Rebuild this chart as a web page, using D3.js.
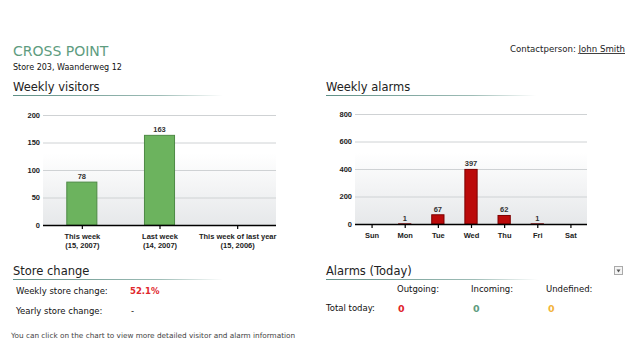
<!DOCTYPE html>
<html><head><meta charset="utf-8">
<script src="https://cdn.jsdelivr.net/npm/d3@7"></script>
<style>
body{margin:0;background:#fff;}
svg text{font-family:"DejaVu Sans",Verdana,sans-serif;}
.ax text{font-family:"Liberation Sans",Arial,sans-serif;font-weight:bold;font-size:7.5px;fill:#222;}
</style></head><body>
<svg id="c" width="640" height="359"></svg>
<script>
const visitorCats = [["This week","(15, 2007)"],["Last week","(14, 2007)"],["This week of last year","(15, 2006)"]];
const visitorVals = [78, 163, null];
const visitorTicks = [0, 50, 100, 150, 200];
const alarmDays = ["Sun","Mon","Tue","Wed","Thu","Fri","Sat"];
const alarmVals = [0, 1, 67, 397, 62, 1, 0];
const alarmTicks = [0, 200, 400, 600, 800];

const svg = d3.select("#c");
const defs = svg.append("defs");
const bg = defs.append("linearGradient").attr("id","bg").attr("x1",0).attr("y1",0).attr("x2",0).attr("y2",1);
bg.append("stop").attr("offset","0.35").attr("stop-color","#ffffff");
bg.append("stop").attr("offset","1").attr("stop-color","#e6e8ea");
const ul = defs.append("linearGradient").attr("id","ul");
ul.append("stop").attr("offset","0").attr("stop-color","#5f8f86");
ul.append("stop").attr("offset","0.7").attr("stop-color","#9fbdb7");
ul.append("stop").attr("offset","1").attr("stop-color","#ffffff");

// Header
svg.append("text").attr("x",13).attr("y",56).attr("font-size",14).attr("fill","#5e9c80").text("CROSS POINT");
svg.append("text").attr("x",13).attr("y",70).attr("font-size",8).attr("fill","#111").text("Store 203, Waanderweg 12");
const cp = svg.append("text").attr("x",625).attr("y",52).attr("font-size",8.6).attr("fill","#222").attr("text-anchor","end");
cp.append("tspan").text("Contactperson: ");
cp.append("tspan").attr("text-decoration","underline").text("John Smith");

function section(x,y,label,w){
  svg.append("text").attr("x",x).attr("y",y).attr("font-size",11.5).attr("fill","#222").text(label);
  svg.append("rect").attr("x",x).attr("y",y+4).attr("width",w).attr("height",1).attr("fill","url(#ul)");
}
section(13,91,"Weekly visitors",210);
section(326,91,"Weekly alarms",210);
section(13,275,"Store change",210);
section(326,275,"Alarms (Today)",212);

function chart(x0,x1,y0,y1,cats,vals,ticks,fill,stroke){
  const xc = d3.scalePoint().domain(d3.range(cats.length)).range([x0,x1]).padding(0.5);
  const y = d3.scaleLinear().domain([ticks[0],ticks[ticks.length-1]]).range([y0,y1]);
  const g = svg.append("g");
  g.append("rect").attr("x",x0).attr("y",y1).attr("width",x1-x0).attr("height",y0-y1).attr("fill","url(#bg)");
  g.selectAll(".gl").data(ticks.slice(1)).join("line")
    .attr("x1",x0).attr("x2",x1).attr("y1",d=>y(d)+0.5).attr("y2",d=>y(d)+0.5)
    .attr("stroke","#cfd2d4").attr("stroke-width",1);
  const ya = g.append("g").attr("class","ax").attr("transform",`translate(${x0},0)`)
    .call(d3.axisLeft(y).tickValues(ticks).tickSize(0).tickPadding(3));
  ya.select(".domain").remove();
  const bw = (x1-x0)/cats.length*0.4;
  const shown = vals.map((v,i)=>({v,i})).filter(d=>d.v!=null&&d.v>0);
  g.selectAll(".bar").data(shown).join("rect")
    .attr("x",d=>xc(d.i)-bw/2+0.5).attr("width",bw-1)
    .attr("y",d=>y(d.v)).attr("height",d=>y0-y(d.v))
    .attr("fill",fill).attr("stroke",stroke).attr("stroke-width",1);
  g.selectAll(".vl").data(shown).join("text")
    .attr("x",d=>xc(d.i)).attr("y",d=>y(d.v)-3).attr("text-anchor","middle")
    .style("font-family","'Liberation Sans',Arial,sans-serif").style("font-weight","bold")
    .attr("font-size",7.5).attr("fill","#333").text(d=>d.v);
  const xa = g.append("g").attr("class","ax").attr("transform",`translate(0,${y0})`)
    .call(d3.axisBottom(xc).tickSize(4).tickPadding(3).tickFormat(""));
  xa.select(".domain").attr("d",`M${x0},0.5H${x1}`).attr("stroke","#000").attr("stroke-width",1.6);
  xa.selectAll(".tick line").attr("stroke","#000").attr("stroke-width",1.2);
  xa.selectAll(".tick").append("text").attr("fill","#222").attr("text-anchor","middle")
    .each(function(d){
      const lines = Array.isArray(cats[d])?cats[d]:[cats[d]];
      const t=d3.select(this);
      lines.forEach((l,k)=>t.append("tspan").attr("x",0).attr("y",14+k*9).text(l));
    });
}
chart(43,276,225,115,visitorCats,visitorVals,visitorTicks,"#6cb35e","#4d8a45");
chart(355,587,224,114,alarmDays,alarmVals,alarmTicks,"#bb0a0a","#7d0000");

// Store change
const fs=8.5;
svg.append("text").attr("x",16).attr("y",294).attr("font-size",fs).attr("fill","#111").text("Weekly store change:");
svg.append("text").attr("x",130).attr("y",294).attr("font-size",fs).attr("font-weight","bold").attr("fill","#e0262b").text("52.1%");
svg.append("text").attr("x",16).attr("y",314).attr("font-size",fs).attr("fill","#111").text("Yearly store change:");
svg.append("text").attr("x",131).attr("y",314).attr("font-size",fs).attr("fill","#111").text("-");
svg.append("text").attr("x",11).attr("y",338).attr("font-size",7.3).attr("fill","#444").text("You can click on the chart to view more detailed visitor and alarm information");

// Alarms today
const heads=[["Outgoing:",397],["Incoming:",471],["Undefined:",546]];
heads.forEach(h=>svg.append("text").attr("x",h[1]).attr("y",292).attr("font-size",fs).attr("fill","#111").text(h[0]));
svg.append("text").attr("x",326).attr("y",311).attr("font-size",fs).attr("fill","#111").text("Total today:");
const totals=[[0,398,"#e0262b"],[0,473,"#5e9c80"],[0,548,"#f2b43a"]];
totals.forEach(t=>svg.append("text").attr("x",t[1]).attr("y",312).attr("font-size",9.5).attr("font-weight","bold").attr("fill",t[2]).text(t[0]));
// dropdown icon
svg.append("rect").attr("x",614.5).attr("y",266.5).attr("width",8).attr("height",8).attr("fill","#f4f4f4").attr("stroke","#aaa");
svg.append("path").attr("d","M616.5,269.5h4l-2,3z").attr("fill","#555");
</script></body></html>
